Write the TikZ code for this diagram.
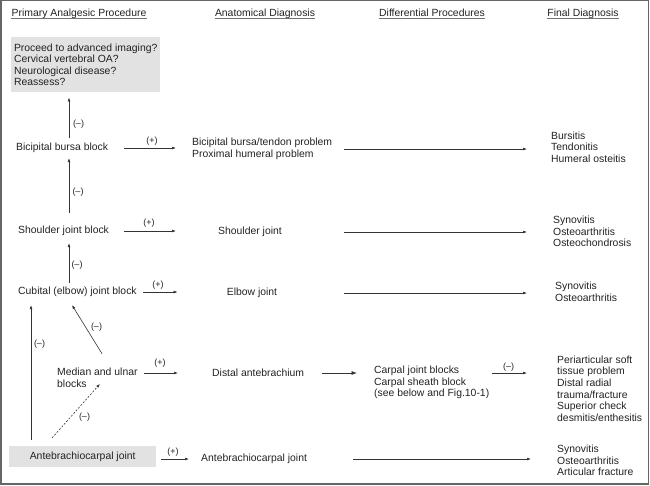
\documentclass[tikz,border=0pt]{standalone}
\usepackage{fontspec}
\setmainfont{Liberation Sans}
\usetikzlibrary{arrows.meta}
\definecolor{boxgray}{RGB}{226,226,226}
\definecolor{ink}{RGB}{34,34,34}
\begin{document}
\begin{tikzpicture}[x=1pt,y=-1pt,
  txt/.style={font=\fontsize{10.4}{11.6}\selectfont, inner sep=0pt, text=ink, align=left},
  hdr/.style={txt, anchor=base},
  lbl/.style={font=\fontsize{9}{10}\selectfont, inner sep=0pt, text=ink},
  arr/.style={draw=black!80, line width=0.6pt, -{Latex[length=4pt,width=2.8pt]}},
  bigarr/.style={draw=black!80, line width=0.6pt, -{Latex[length=5.5pt,width=4pt]}},
  greybox/.style={txt, fill=boxgray, anchor=north west},
]
\useasboundingbox (0,0) rectangle (650,485);
\draw[black!60, line width=1.2pt] (1,0.6) rectangle (648.5,484);

% headers
\node[hdr] (h1) at (79,16.8) {Primary Analgesic Procedure};
\node[hdr] (h2) at (265,16.8) {Anatomical Diagnosis};
\node[hdr] (h3) at (432,16.8) {Differential Procedures};
\node[hdr] (h4) at (583,16.8) {Final Diagnosis};
\foreach \h in {h1,h2,h3,h4}
  \draw[black!55, line width=0.6pt] ([yshift=-1.7pt]\h.base west) -- ([yshift=-1.7pt]\h.base east);

% column 1
\node[greybox, minimum width=149pt, minimum height=55pt] (adv) at (11,37)
  {Proceed to advanced imaging?\\Cervical vertebral OA?\\Neurological disease?\\Reassess?};
\node[txt, anchor=west] (bic) at (16,148) {Bicipital bursa block};
\node[txt, anchor=west] (sh) at (18,231) {Shoulder joint block};
\node[txt, anchor=west] (cu) at (18,292) {Cubital (elbow) joint block};
\node[txt, anchor=west] (me) at (57,377.5) {Median and ulnar\\blocks};
\node[greybox, minimum width=147pt, minimum height=21pt] (an) at (9,446) {Antebrachiocarpal joint};

% column 2
\node[txt, anchor=west] (bicd) at (192,149) {Bicipital bursa/tendon problem\\Proximal humeral problem};
\node[txt] (shd) at (250,232) {Shoulder joint};
\node[txt] (cud) at (252,293) {Elbow joint};
\node[txt, anchor=west] (med) at (212,373) {Distal antebrachium};
\node[txt, anchor=west] (and) at (201,459) {Antebrachiocarpal joint};

% column 3
\node[txt, anchor=west] (mep) at (374,382.5) {Carpal joint blocks\\Carpal sheath block\\(see below and Fig.10-1)};

% column 4
\node[txt, anchor=west] (bicf) at (551,147) {Bursitis\\Tendonitis\\Humeral osteitis};
\node[txt, anchor=west] (shf) at (553,231.5) {Synovitis\\Osteoarthritis\\Osteochondrosis};
\node[txt, anchor=west] (cuf) at (555,292) {Synovitis\\Osteoarthritis};
\node[txt, anchor=west] (mef) at (557,388.5) {Periarticular soft\\tissue problem\\Distal radial\\trauma/fracture\\Superior check\\desmitis/enthesitis};
\node[txt, anchor=west] (anf) at (557,460.5) {Synovitis\\Osteoarthritis\\Articular fracture};

% helper columns
\coordinate (xa) at (69,0);
\coordinate (xb) at (31,0);
\coordinate (c2) at (344,0);
\coordinate (c4) at (527,0);

% vertical (-) arrows
\draw[arr, shorten <=5pt, shorten >=5pt] (xa |- bic.north) -- (xa |- adv.south);
\draw[arr, shorten <=13pt, shorten >=5pt] (xa |- sh.north) -- (xa |- bic.south);
\draw[arr, shorten <=4pt, shorten >=7pt] (xa |- cu.north) -- (xa |- sh.south);
\draw[arr, shorten <=6pt, shorten >=8pt] (xb |- an.north) -- (xb |- cu.south);
\draw[arr] ([xshift=45pt,yshift=14pt]me.north west) -- ([xshift=54pt,yshift=-8pt]cu.south west);
\draw[arr, dash pattern=on 2pt off 1.6pt] ([xshift=43pt,yshift=8pt]an.north west) -- ([xshift=43pt,yshift=3.5pt]me.south west);

\node[lbl] (l1) at (78.5,124) {(\textendash)};
\node[lbl] (l2) at (78,192.5) {(\textendash)};
\node[lbl] (l3) at (77,265.5) {(\textendash)};
\node[lbl] (l4) at (39.5,344.5) {(\textendash)};
\node[lbl] (l5) at (96.5,327.5) {(\textendash)};
\node[lbl] (l6) at (84.5,417.5) {(\textendash)};

% (+) arrows
\draw[arr, shorten <=16pt, shorten >=16pt] (bic.east) -- (bic.east -| bicd.west);
\draw[arr, shorten <=14.5pt, shorten >=42pt] (sh.east) -- (sh.east -| shd.west);
\draw[arr, shorten <=6.5pt, shorten >=49pt] (cu.east) -- (cu.east -| cud.west);
\draw[arr, shorten <=6.6pt, shorten >=34pt] (me.east |- med.west) -- (med.west);
\draw[arr, shorten <=5pt, shorten >=12pt] (an.east |- and.west) -- (and.west);
\node[lbl] (p1) at (152,141.5) {(+)};
\node[lbl] (p2) at (149,223.5) {(+)};
\node[lbl] (p3) at (158,285.5) {(+)};
\node[lbl] (p4) at (160,363.5) {(+)};
\node[lbl] (p5) at (173,452.5) {(+)};

% long arrows
\draw[arr] (c2 |- bicd.east) -- (c4 |- bicd.east);
\draw[arr] (c2 |- shd.east) -- (c4 |- shd.east);
\draw[arr] (c2 |- cud.east) -- (c4 |- cud.east);
\draw[arr, shorten <=46pt, shorten >=26pt] (and.east) -- (and.east -| anf.west);
\draw[bigarr, shorten <=18pt, shorten >=17pt] (med.east) -- (med.east -| mep.west);
\draw[arr, shorten <=3pt, shorten >=30pt] (mep.east |- med.east) -- (mef.west |- med.east);
\node[lbl] (m1) at (508.5,367) {(\textendash)};
\end{tikzpicture}
\end{document}
